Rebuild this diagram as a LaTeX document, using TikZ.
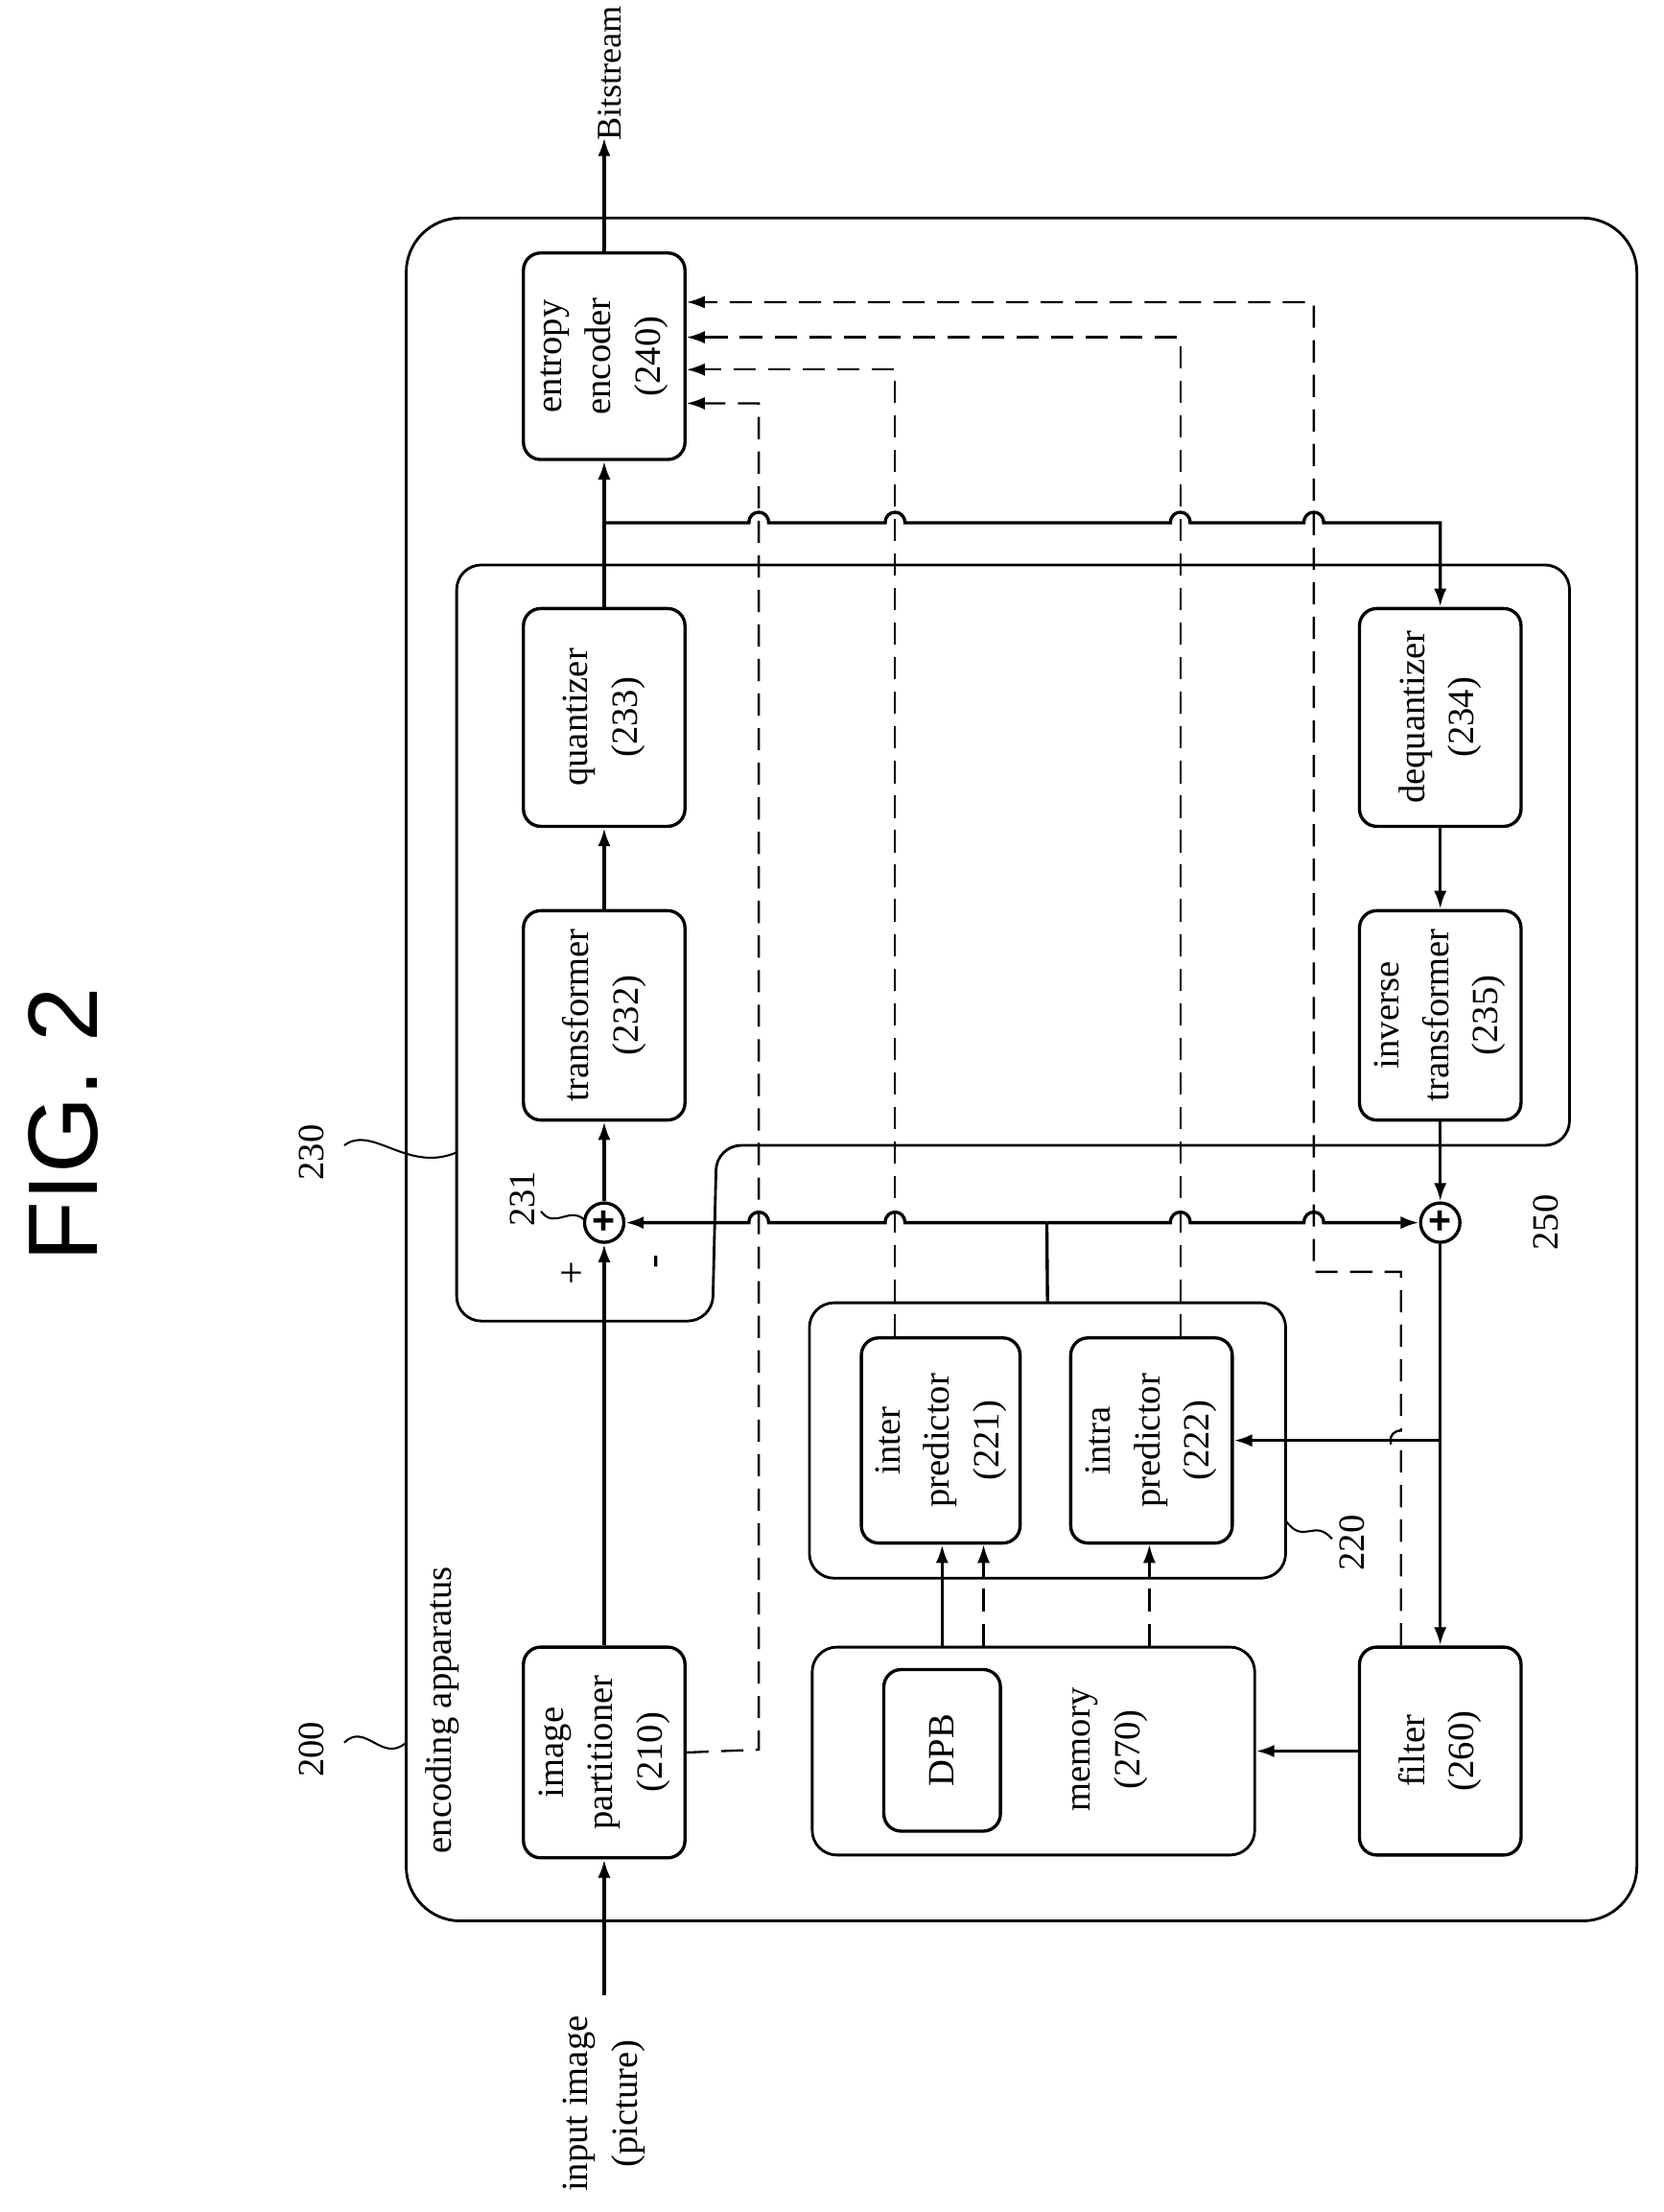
\documentclass[tikz,border=0pt]{standalone}
\usepackage{fontspec}
\setmainfont{Liberation Serif}
\setsansfont{Liberation Sans}
\usetikzlibrary{arrows.meta}

\begin{document}
\begin{tikzpicture}[
		x=0.02cm, y=-0.02cm,
		>={Latex[length=2.6mm,width=1.8mm]},
		line width=1.3pt,
		txt/.style={font=\fontsize{15}{20}\selectfont, align=center, rotate=90, inner sep=0pt},
		unit/.style={txt, draw, rounded corners=7pt, minimum height=2.3cm},
		group/.style={draw, rounded corners=10pt, line width=1.1pt},
		adder/.style={circle, draw, minimum size=0.56cm, inner sep=0pt, font=\sffamily\bfseries\fontsize{16}{16}\selectfont},
		sideinfo/.style={line width=0.9pt, dash pattern=on 9pt off 5pt}
		]
		\useasboundingbox (0,0) rectangle (1184,1574);

		\node[font=\sffamily\fontsize{40}{48}\selectfont, rotate=90] (fig) at (45,800) {FIG. 2};

		% outer apparatus
		\node[group, rounded corners=22pt, minimum width=17.52cm, minimum height=24.24cm] (outer) at (727,761) {};
		\node[txt, anchor=west] (lbl) at (315,1320) {encoding apparatus};
		\node[txt] (n200) at (222,1245) {200};
		\draw[line width=0.8pt] (245,1240) .. controls (260,1225) and (272,1255) .. (289,1240);

		% block 230
		\draw[group] (325,402) -- (1117,402) -- (1117,815) -- (510,815) -- (507,940) -- (325,940) -- cycle;
		\node[txt] (n230) at (222,820) {230};
		\draw[line width=0.8pt] (245,815) .. controls (265,800) and (290,835) .. (325,820);

		% units
		\node[unit, minimum width=2.94cm] (ent) at (430,253.5) {entropy\\encoder\\(240)};
		\node[unit, minimum width=3.1cm] (quant) at (430,510.5) {quantizer\\(233)};
		\node[unit, minimum width=2.98cm] (trans) at (430,722.5) {transformer\\(232)};
		\node[unit, minimum width=3cm] (part) at (430,1247) {image\\partitioner\\(210)};
		\node[unit, minimum width=3.1cm] (deq) at (1025,510.5) {dequantizer\\(234)};
		\node[unit, minimum width=2.98cm] (inv) at (1025,722.5) {inverse\\transformer\\(235)};
		\node[unit, minimum width=2.96cm] (filt) at (1025,1246) {filter\\(260)};

		% predictor 220
		\node[group, minimum width=6.78cm, minimum height=3.92cm] (g220) at (745.5,1025) {};
		\node[unit, minimum width=2.92cm, minimum height=2.26cm] (inter) at (669.5,1025) {inter\\predictor\\(221)};
		\node[unit, minimum width=2.92cm] (intra) at (819.5,1025) {intra\\predictor\\(222)};
		\node[txt] (n220) at (962,1098) {220};
		\draw[line width=0.8pt] (915,1082) .. controls (928,1100) and (935,1080) .. (948,1095);

		% memory 270
		\node[group, minimum width=6.3cm, minimum height=2.96cm] (mem) at (735.5,1246) {};
		\node[unit, minimum width=2.3cm, minimum height=1.66cm] (dpb) at (670.5,1245.5) {DPB};
		\node[txt] (memt) at (790,1245) {memory\\(270)};

		% adders
		\node[adder] (add1) at (430,870) {+};
		\node[adder] (add2) at (1025,870) {+};
		\node[txt] (n231) at (372,853) {231};
		\draw[line width=0.8pt] (385,862) .. controls (395,875) and (405,858) .. (416,868);
		\node[txt, font=\fontsize{17}{20}\selectfont] (plus) at (408,906) {+};
		\node[txt, font=\fontsize{17}{20}\selectfont] (minus) at (470,898) {-};
		\node[txt] (n250) at (1100,870) {250};

		\coordinate (inp) at (430,1420);
		\coordinate (bits) at (430,98);
		\coordinate (tap) at (430,372);
		\coordinate (pj) at (745,870);
		\coordinate (br) at (1025,1025);
		\node[txt] (inpt) at (430,1497) {input image\\(picture)};
		\node[txt, font=\fontsize{14}{18}\selectfont] (bitt) at (434,52) {Bitstream};

		% forward path
		\draw[->] (inp) -- (part.west);
		\draw[->] (part.east) -- (add1.south);
		\draw[->] (add1.north) -- (trans.west);
		\draw[->] (trans.east) -- (quant.west);
		\draw[->] (quant.east) -- (ent.west);
		\draw[->] (ent.east) -- (bits);

		% reconstruction path
		\draw[->] (tap) -- (533,372) .. controls (533,362) and (547,362) .. (547,372)
			-- (630,372) .. controls (630,362) and (644,362) .. (644,372)
			-- (833,372) .. controls (833,362) and (847,362) .. (847,372)
			-- (928,372) .. controls (928,362) and (942,362) .. (942,372)
			-- (deq.east |- tap) -- (deq.east);
		\draw[->] (deq.west) -- (inv.east);
		\draw[->] (inv.west) -- (add2.north);
		\draw (g220.north) -- (pj);
		\draw[->] (pj) -- (644,870) .. controls (644,860) and (630,860) .. (630,870)
			-- (547,870) .. controls (547,860) and (533,860) .. (533,870) -- (add1.east);
		\draw[->] (pj) -- (833,870) .. controls (833,860) and (847,860) .. (847,870)
			-- (928,870) .. controls (928,860) and (942,860) .. (942,870) -- (add2.west);
		\draw[->] (add2.south) -- (filt.east);
		\draw[->] (br) -- (intra.south);
		\draw[->] (filt.north) -- (mem.east);
		\draw[->] (mem.north -| dpb.center) -- (inter.west -| dpb.center);

		% side information (dashed)
		\draw[sideinfo, ->] (mem.north -| 700,0) -- (inter.west -| 700,0);
		\draw[sideinfo, ->] (mem.north -| 818,0) -- (intra.west -| 818,0);
		\draw[sideinfo, ->] (part.south) -- (540,1245) -- (540,287) -- (ent.south |- 0,287);
		\draw[sideinfo, ->] (inter.east -| 637,0) -- (637,263) -- (ent.south |- 0,263);
		\draw[sideinfo, ->] (intra.east -| 840,0) -- (840,240) -- (ent.south |- 0,240);
		\draw[sideinfo, ->] (filt.east -| 997,0) -- (997,1032) .. controls (987,1032) and (987,1018) .. (997,1018)
			-- (997,905) -- (935,905) -- (935,215) -- (ent.south |- 0,215);
	\end{tikzpicture}
\end{document}
